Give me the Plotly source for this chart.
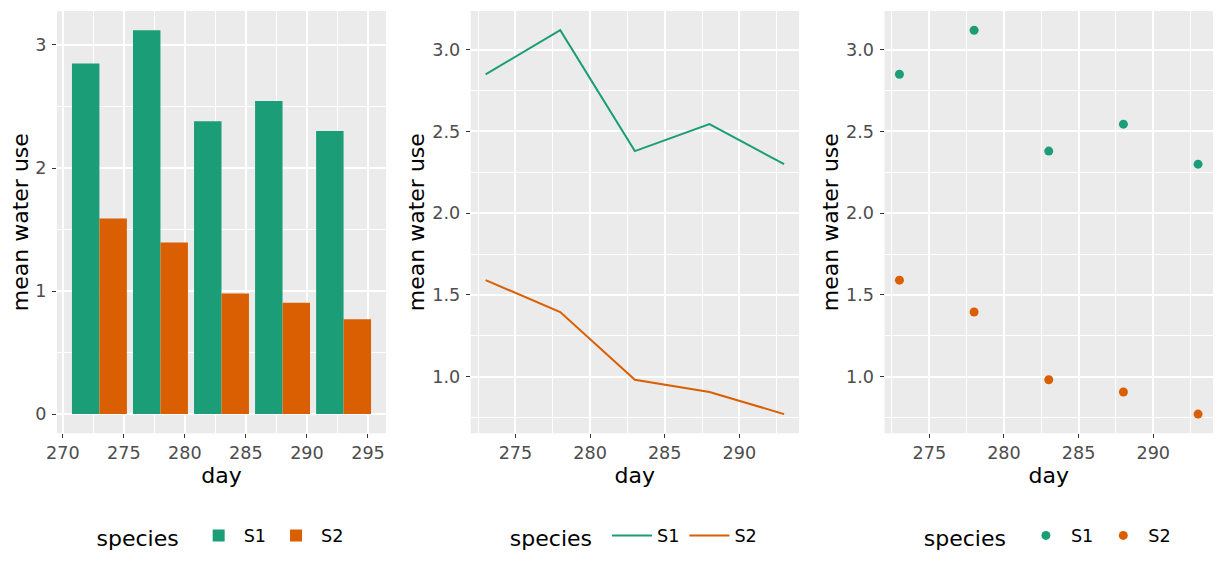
import plotly.graph_objects as go
from plotly.subplots import make_subplots

# ---- data ----
days = [273, 278, 283, 288, 293]
species = ["S1", "S2"]
s1_water = [2.85, 3.12, 2.38, 2.545, 2.30]
s2_water = [1.59, 1.395, 0.98, 0.905, 0.77]
colors = {"S1": "#1B9E77", "S2": "#D95F02"}
values = {"S1": s1_water, "S2": s2_water}

W, H = 1224, 576
OFF = 8  # browser body margin
FW, FH = W - OFF, H - OFF
FONT = "DejaVu Sans"

fig = make_subplots(rows=1, cols=3)

legends = ["legend", "legend2", "legend3"]

for sp in species:
    fig.add_trace(go.Bar(x=days, y=values[sp], name=sp, marker=dict(color=colors[sp], line=dict(width=0)),
                         legend="legend"), row=1, col=1)
for sp in species:
    fig.add_trace(go.Scatter(x=days, y=values[sp], name=sp, mode="lines",
                             line=dict(color=colors[sp], width=2), legend="legend2"), row=1, col=2)
for sp in species:
    fig.add_trace(go.Scatter(x=days, y=values[sp], name=sp, mode="markers",
                             marker=dict(color=colors[sp], size=9), legend="legend3"), row=1, col=3)

# ggplot-like scale expansion
step = days[1] - days[0]
barw = 0.9 * step
bx0, bx1 = min(days) - barw / 2, max(days) + barw / 2
bpad = 0.05 * (bx1 - bx0)
allv = s1_water + s2_water
by0, by1 = 0, max(allv)
bypad = 0.05 * (by1 - by0)
lx0, lx1 = min(days), max(days)
lxpad = 0.05 * (lx1 - lx0)
ly0, ly1 = min(allv), max(allv)
lypad = 0.05 * (ly1 - ly0)


def px(x):
    return (x - OFF) / FW


def py(y):
    return (H - y) / FH


# panel pixel positions (page coordinates)
xdoms = [(57, 386), (470.7, 799), (884.5, 1213)]
ydom = [py(433.3), py(11)]

axis_common = dict(
    showgrid=True, gridcolor="white", gridwidth=1.8, zeroline=False,
    ticks="outside", ticklen=4, tickwidth=1.4, tickcolor="#333333",
    tickfont=dict(family=FONT, size=17.6, color="#4D4D4D"),
    showline=False, automargin=False,
)

for i in range(3):
    n = "" if i == 0 else str(i + 1)
    xa = dict(axis_common)
    ya = dict(axis_common)
    xa.update(domain=[px(xdoms[i][0]), px(xdoms[i][1])], ticklabelstandoff=0,
              title=dict(text="day", font=dict(family=FONT, size=22, color="black"), standoff=3),
              dtick=5, tick0=270,
              minor=dict(dtick=2.5, tick0=270, showgrid=True, gridcolor="white", gridwidth=0.9))
    ya.update(domain=ydom, ticklabelstandoff=2,
              title=dict(text="mean water use", font=dict(family=FONT, size=22, color="black"), standoff=1),
              minor=dict(showgrid=True, gridcolor="white", gridwidth=0.9))
    if i == 0:
        xa.update(range=[bx0 - bpad, bx1 + bpad])
        ya.update(range=[by0 - bypad, by1 + bypad], dtick=1, tick0=0)
        ya["minor"].update(dtick=0.5, tick0=0)
    else:
        xa.update(range=[lx0 - lxpad, lx1 + lxpad])
        ya.update(range=[ly0 - lypad, ly1 + lypad], dtick=0.5, tick0=0, tickformat=".1f")
        ya["minor"].update(dtick=0.25, tick0=0)
    fig.layout["xaxis" + n].update(xa)
    fig.layout["yaxis" + n].update(ya)

leg_common = dict(orientation="h", yanchor="middle", y=py(537), xanchor="center",
                  bgcolor="rgba(0,0,0,0)", itemwidth=40,
                  font=dict(family=FONT, size=17.6, color="black"),
                  title=dict(text="species ", font=dict(family=FONT, size=22, color="black"), side="left"))
for i, lg in enumerate(legends):
    d = dict(leg_common)
    d["x"] = px((xdoms[i][0] + xdoms[i][1]) / 2)
    fig.layout[lg] = d

fig.update_layout(
    width=FW, height=FH, margin=dict(l=0, r=0, t=0, b=0),
    paper_bgcolor="white", plot_bgcolor="#EBEBEB",
    barmode="group", bargap=0.1, bargroupgap=0,
    font=dict(family=FONT),
)

fig.write_html("out.html")
